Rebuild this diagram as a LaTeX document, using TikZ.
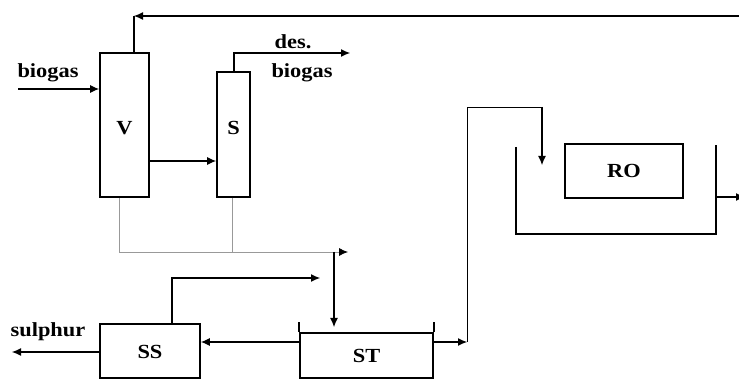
\documentclass[tikz,border=0pt]{standalone}
\usepackage{fontspec}
\usepackage{tikz}
\usetikzlibrary{arrows.meta}
\newfontfamily\flowfont{Liberation Serif}[FakeStretch=1.12]
\tikzset{
  unit/.style={draw,line width=1.7pt,inner sep=0pt},
  lbl/.style={font=\flowfont\bfseries\fontsize{20}{22}\selectfont,inner sep=0pt},
  flow/.style={line width=1.1pt,-{Latex[length=9pt,width=8pt]}},
  pipe/.style={line width=1.1pt},
  drain/.style={line width=0.8pt,gray!80}
}
\begin{document}
\begin{tikzpicture}[x=1pt,y=-1pt]
\useasboundingbox (0,0) rectangle (739,379);
% columns V and S
\node[unit,minimum width=49pt,minimum height=144pt] (V) at (124.5,125) {};
\node[lbl] at (124.5,128) {V};
\node[unit,minimum width=33pt,minimum height=125pt] (S) at (233.5,134.5) {};
\node[lbl] at (233.5,128) {S};
% sulphur separator and settling tank
\node[unit,minimum width=100pt,minimum height=54pt] (SS) at (150,351) {};
\node[lbl] at (150,352) {SS};
\node[unit,minimum width=133pt,minimum height=45pt] (ST) at (366.5,355.5) {};
\node[lbl] at (366.5,356) {ST};
\draw[line width=1.7pt] (ST.north west) -- ++(0,-10);
\draw[line width=1.7pt] (ST.north east) -- ++(0,-10);
% RO unit in its basin
\node[unit,minimum width=118pt,minimum height=54pt] (RO) at (624,171) {};
\node[lbl] at (624,171) {RO};
\coordinate (basinL) at (516,147);
\coordinate (basinR) at (716,145);
\draw[line width=1.7pt] (basinL) -- (516,234) -- (716,234) -- (basinR);
% labels
\node[lbl] (gasin) at (48,73) {biogas};
\node[lbl] (desA) at (293,42) {des.};
\node[lbl] (desB) at (302,73) {biogas};
\node[lbl] (sulph) at (48,332) {sulphur};
% gas side
\coordinate (gasfeed) at (18,89);
\draw[flow] (gasfeed) -- (gasfeed -| V.west);
\coordinate (vtop) at (134,16);
\coordinate (recyc) at (745,16);
\draw[flow] (recyc) -- (vtop);
\draw[pipe] (vtop) -- (vtop |- V.north);
\draw[flow] (V.east |- 0,161) -- (S.west |- 0,161);
\coordinate (stop) at (234,53);
\draw[flow] (stop |- S.north) -- (stop) -- (350,53);
% liquid drains to ST
\coordinate (vbot) at (119,252);
\coordinate (sbot) at (232,252);
\coordinate (drainend) at (348,252);
\draw[drain] (vbot |- V.south) -- (vbot);
\draw[drain] (sbot |- S.south) -- (sbot);
\draw[drain,-{Latex[length=9pt,width=8pt,color=black]}] (vbot) -- (drainend);
\coordinate (stin) at (334,252);
\draw[flow] (stin) -- (334,327);
% ST and SS
\draw[flow] (ST.west |- 0,342) -- (SS.east |- 0,342);
\draw[flow] (SS.west |- 0,352) -- (12,352);
\coordinate (ssup) at (172,278);
\draw[flow] (ssup |- SS.north) -- (ssup) -- (320,278);
\coordinate (stout) at (467,342);
\draw[flow] (ST.east |- stout) -- (stout);
\coordinate (roin) at (542,107);
\draw[drain,black] (stout) -- (467,107) -- (roin);
\draw[flow] (roin) -- (542,165);
% basin outlet
\draw[flow] (basinR |- 0,197) -- (745,197);
\end{tikzpicture}
\end{document}
